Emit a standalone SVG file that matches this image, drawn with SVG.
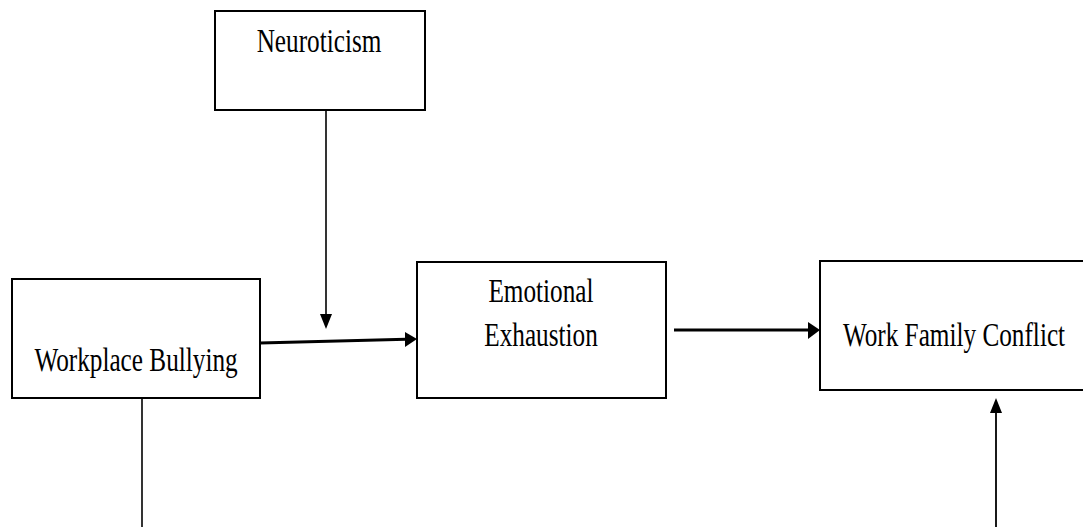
<svg xmlns="http://www.w3.org/2000/svg" width="1083" height="527" viewBox="0 0 1083 527">
<style>
.box{fill:#fff;stroke:#000;stroke-width:2}
.lbl{font-family:"Liberation Serif","Times New Roman",serif;font-size:33px;fill:#000;text-anchor:middle}
.ln{stroke:#000;fill:none}
.ah{fill:#000;stroke:none}
</style>
<rect width="1083" height="527" fill="#fff"/>
<g id="connectors">
  <line class="ln" x1="326" y1="110" x2="326" y2="316" stroke-width="1.6"/>
  <polygon class="ah" points="320,314 332,314 326,329"/>
  <line class="ln" x1="260" y1="343" x2="406" y2="339.3" stroke-width="3"/>
  <polygon class="ah" points="405,332 417,339 405,347"/>
  <line class="ln" x1="674" y1="330" x2="809" y2="330" stroke-width="3"/>
  <polygon class="ah" points="808,322 820,330 808,339"/>
  <line class="ln" x1="142" y1="398" x2="142" y2="527" stroke="#333" stroke-width="1.6"/>
  <line class="ln" x1="996" y1="527" x2="996" y2="411" stroke-width="1.8"/>
  <polygon class="ah" points="990,413 1002,413 996,398"/>
</g>
<g id="neuroticism">
  <rect class="box" x="215" y="11" width="210" height="99"/>
  <text class="lbl" transform="translate(319,52) scale(0.765,1)">Neuroticism</text>
</g>
<g id="workplace-bullying">
  <rect class="box" x="12" y="279" width="248" height="119"/>
  <text class="lbl" transform="translate(136,371) scale(0.765,1)">Workplace Bullying</text>
</g>
<g id="emotional-exhaustion">
  <rect class="box" x="417" y="262" width="249" height="136"/>
  <text class="lbl" transform="translate(541,302) scale(0.765,1)">Emotional</text>
  <text class="lbl" transform="translate(541,346) scale(0.765,1)">Exhaustion</text>
</g>
<g id="work-family-conflict">
  <rect x="820" y="261" width="263" height="129" fill="#fff"/>
  <path class="box" d="M1083,261 H820 V390 H1083" fill="none"/>
  <text class="lbl" transform="translate(954,346) scale(0.765,1)">Work Family Conflict</text>
</g>
</svg>
